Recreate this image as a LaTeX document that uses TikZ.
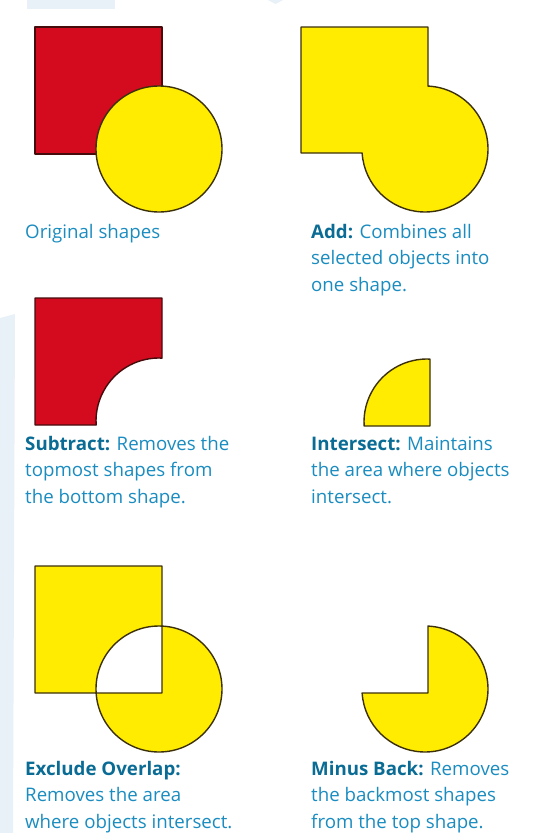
\documentclass[tikz,border=0pt]{standalone}
\usepackage{fontspec}
\setmainfont{Open Sans}
\usepackage{xcolor}
\usetikzlibrary{math}
\definecolor{shapered}{RGB}{212,10,30}
\definecolor{shapeyellow}{RGB}{255,236,0}
\definecolor{rededge}{RGB}{70,12,12}
\definecolor{yellowedge}{RGB}{60,48,10}
\definecolor{captionblue}{RGB}{26,140,192}
\definecolor{captionbold}{RGB}{10,108,148}
\definecolor{paleblue}{RGB}{232,240,248}

\tikzset{
  redshape/.style={fill=shapered, draw=rededge, line width=1.4pt, line join=round},
  yellowshape/.style={fill=shapeyellow, draw=yellowedge, line width=1.4pt, line join=round},
  caption/.style={anchor=base west, align=left, inner sep=0pt, text=captionblue,
    font=\fontsize{18.7}{26.5}\selectfont},
}
\newcommand{\lead}[1]{\textbf{\color{captionbold}#1}}

\begin{document}
\begin{tikzpicture}[x=1pt,y=-1pt]
\tikzmath{
\r=63;
\s=127;
\up=62.93;   % half chord where the circle cuts the square's right side
\lf=62.87;   % half chord where it cuts the bottom side
\ls=26.5;    % caption line step
}
\useasboundingbox (0,0) rectangle (546,833);

% page background
\fill[paleblue] (27,0) rectangle (115,9);
\fill[paleblue] (268,0) -- (283,0) -- (275.5,4) -- cycle;
\fill[paleblue] (0,318) -- (15,314) -- (13,833) -- (0,833) -- cycle;

%%%%%%%%%%   original shapes
\draw[redshape] (35,27) rectangle +(\s,\s);
\draw[yellowshape] (159,149) circle (\r);
\node[caption] (orig) at (25,238) {Original shapes};

%%%%%%%%%%   add
\draw[yellowshape] (301,27) -- (428,27) -- (428,149-\up)
  arc[start angle=-87.27, end angle=176.36, radius=\r] -- (301,153) -- cycle;
% base of a multi-line node sits on its last line
\node[caption] (add) at (311,238+2*\ls) {\lead{Add:} Combines all\\selected objects into\\one shape.};

%%%%%%%%%%   subtract
\draw[redshape] (35,298) -- (162,298) -- (162,421-\up)
  arc[start angle=-87.27, end angle=-183.64, radius=\r] -- (35,425) -- cycle;
\node[caption] (subtract) at (25,450+2*\ls) {\lead{Subtract:} Removes the\\topmost shapes from\\the bottom shape.};

%%%%%%%%%%   intersect
\draw[yellowshape] (430,426) -- (430,422-\up)
  arc[start angle=-87.27, end angle=-183.64, radius=\r] -- cycle;
\node[caption] (intersect) at (311,450+2*\ls) {\lead{Intersect:} Maintains\\the area where objects\\intersect.};

%%%%%%%%%%   exclude overlap
\draw[yellowshape, even odd rule] (35,566) rectangle +(\s,\s) (159,689) circle (\r);
\node[caption] (exclude) at (25,775+2*\ls) {\lead{Exclude Overlap:}\\Removes the area\\where objects intersect.};

%%%%%%%%%%   minus back
\draw[yellowshape] (428,689-\up)
  arc[start angle=-87.27, end angle=176.36, radius=\r] -- (428,693) -- cycle;
\node[caption] (minusback) at (311,775+2*\ls) {\lead{Minus Back:} Removes\\the backmost shapes\\from the top shape.};

\end{tikzpicture}
\end{document}
